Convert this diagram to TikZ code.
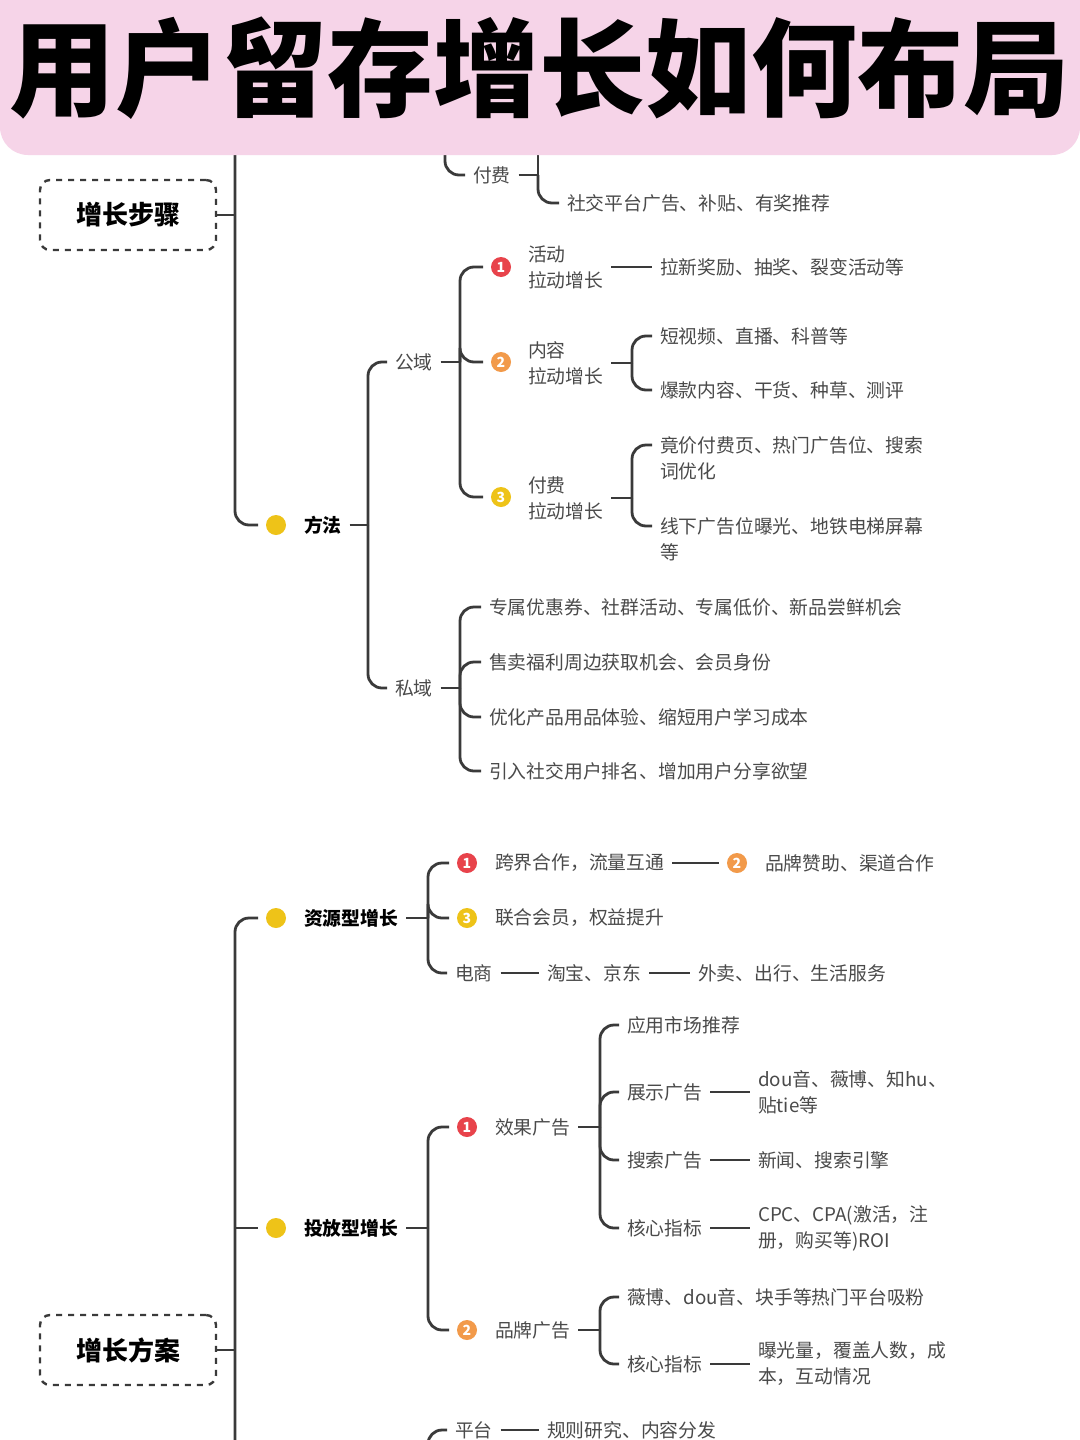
\documentclass[tikz,border=0pt]{standalone}
\usepackage{fontspec}
\setmainfont{Noto Sans CJK SC}
\usetikzlibrary{positioning,calc}
\definecolor{lncol}{HTML}{3A3A3A}
\definecolor{txcol}{HTML}{4A4A4A}
\definecolor{dotred}{HTML}{E8434B}
\definecolor{dotorg}{HTML}{F29A4A}
\definecolor{dotyel}{HTML}{EEC318}
\definecolor{bandpink}{HTML}{F6D4E8}
\newcommand{\txfont}{\fontsize{9.4}{13}\selectfont}
\tikzset{
    txsty/.style={anchor=west,inner sep=0pt,outer sep=4pt,xshift=-4pt,text=txcol,font=\txfont,align=left},
    hdsty/.style={txsty,text=black,font=\txfont\bfseries},
    dotsty/.style={circle,fill=#1,text=white,inner sep=0pt,minimum size=10pt,outer sep=4pt,
                   font=\fontsize{7}{7}\selectfont\bfseries},
    boxsty/.style={draw=lncol,dashed,line width=1.2pt,rounded corners=5pt,minimum width=88pt,
                   minimum height=35pt,font=\fontsize{13}{13}\selectfont\bfseries},
    lnsty/.style={draw=lncol,line width=1.4pt},
    brsty/.style={lnsty,rounded corners=7pt},
}
\newcommand{\brto}[2]{\draw[brsty] (#1) |- (#2.west);}
\begin{document}
\begin{tikzpicture}[x=0.5pt,y=-0.5pt]
  \useasboundingbox (0,0) rectangle (1080,1440);
  \fill[white] (0,0) rectangle (1080,1440);

  % upper part: steps
  \node[boxsty] (bxstep) at (128,215) {增长步骤};
  \coordinate (ttop) at (235,130);
  \coordinate (tjstep) at (235,215);
  \node[dotsty=dotyel] (dff) at (276,525) {};
  \node[hdsty] (fangfa) at (304,525) {方法};
  \brto{ttop}{dff}
  \draw[lnsty] (bxstep.east) -- (tjstep);

  \coordinate (jfftop) at (445,130);
  \node[txsty] (fufei) at (473,175) {付费};
  \brto{jfftop}{fufei}
  \coordinate (jff) at (538,175);
  \coordinate (jfft) at (538,130);
  \node[txsty] (ffb) at (567,203) {社交平台广告、补贴、有奖推荐};
  \draw[lnsty] (fufei.east) -- (jff) -- (jfft);
  \brto{jff}{ffb}

  \coordinate (jfa) at (368,525);
  \node[txsty] (gongyu) at (395,362) {公域};
  \node[txsty] (siyu) at (395,688) {私域};
  \draw[lnsty] (fangfa.east) -- (jfa);
  \brto{jfa}{gongyu}
  \brto{jfa}{siyu}

  \coordinate (jgy) at (460,362);
  \node[dotsty=dotred] (g1) at (501,267) {1};
  \node[dotsty=dotorg] (g2) at (501,362) {2};
  \node[dotsty=dotyel] (g3) at (501,497) {3};
  \draw[lnsty] (gongyu.east) -- (jgy);
  \foreach \n in {g1,g2,g3} {\brto{jgy}{\n}}

  \node[txsty] (g1t) at (528,267) {活动\\拉动增长};
  \node[txsty] (g1r) at (660,267) {拉新奖励、抽奖、裂变活动等};
  \draw[lnsty] (g1t.east) -- (g1r.west);

  \node[txsty] (g2t) at (528,363) {内容\\拉动增长};
  \node[txsty] (g2a) at (660,336) {短视频、直播、科普等};
  \node[txsty] (g2b) at (660,390) {爆款内容、干货、种草、测评};
  \coordinate (jg2) at (632,363);
  \draw[lnsty] (g2t.east) -- (jg2);
  \brto{jg2}{g2a}
  \brto{jg2}{g2b}

  \node[txsty] (g3t) at (528,498) {付费\\拉动增长};
  \node[txsty] (g3a) at (660,458) {竟价付费页、热门广告位、搜索\\词优化};
  \node[txsty] (g3b) at (660,539) {线下广告位曝光、地铁电梯屏幕\\等};
  \coordinate (jg3) at (632,498);
  \draw[lnsty] (g3t.east) -- (jg3);
  \draw[brsty] (jg3) |- ($(g3a.west)+(0,-13)$);
  \draw[brsty] (jg3) |- ($(g3b.west)+(0,-13)$);

  \coordinate (jsy) at (460,688);
  \draw[lnsty] (siyu.east) -- (jsy);
  \node[txsty] (s1) at (489,607) {专属优惠券、社群活动、专属低价、新品尝鲜机会};
  \node[txsty] (s2) at (489,662) {售卖福利周边获取机会、会员身份};
  \node[txsty] (s3) at (489,717) {优化产品用品体验、缩短用户学习成本};
  \node[txsty] (s4) at (489,771) {引入社交用户排名、增加用户分享欲望};
  \foreach \n in {s1,s2,s3,s4} {\brto{jsy}{\n}}

  % lower part: plans
  \node[boxsty] (bxplan) at (128,1350) {增长方案};
  \coordinate (tbot) at (235,1460);
  \coordinate (tjplan) at (235,1350);
  \coordinate (tjtf) at (235,1228);
  \node[dotsty=dotyel] (dzy) at (276,918) {};
  \node[hdsty] (zyt) at (304,918) {资源型增长};
  \node[dotsty=dotyel] (dtf) at (276,1228) {};
  \node[hdsty] (tft) at (304,1228) {投放型增长};
  \brto{tbot}{dzy}
  \draw[lnsty] (tjtf) -- (dtf.west);
  \draw[lnsty] (bxplan.east) -- (tjplan);

  \coordinate (jzy) at (428,918);
  \draw[lnsty] (zyt.east) -- (jzy);
  \node[dotsty=dotred] (z1) at (467,863) {1};
  \node[txsty] (z1t) at (495,863) {跨界合作，流量互通};
  \node[dotsty=dotorg] (z2) at (737,863) {2};
  \node[txsty] (z2t) at (765,863) {品牌赞助、渠道合作};
  \node[dotsty=dotyel] (z3) at (467,918) {3};
  \node[txsty] (z3t) at (495,918) {联合会员，权益提升};
  \node[txsty] (ds) at (455,973) {电商};
  \node[txsty] (ds1) at (547,973) {淘宝、京东};
  \node[txsty] (ds2) at (698,973) {外卖、出行、生活服务};
  \foreach \n in {z1,z3,ds} {\brto{jzy}{\n}}
  \draw[lnsty] (z1t.east) -- (z2.west);
  \draw[lnsty] (ds.east) -- (ds1.west);
  \draw[lnsty] (ds1.east) -- (ds2.west);

  \coordinate (jtf) at (428,1228);
  \draw[lnsty] (tft.east) -- (jtf);
  \node[dotsty=dotred] (x1) at (467,1127) {1};
  \node[txsty] (x1t) at (495,1127) {效果广告};
  \node[dotsty=dotorg] (x2) at (467,1330) {2};
  \node[txsty] (x2t) at (495,1330) {品牌广告};
  \brto{jtf}{x1}
  \brto{jtf}{x2}

  \coordinate (jx1) at (600,1127);
  \draw[lnsty] (x1t.east) -- (jx1);
  \node[txsty] (e1) at (627,1025) {应用市场推荐};
  \node[txsty] (e2) at (627,1092) {展示广告};
  \node[txsty] (e3) at (627,1160) {搜索广告};
  \node[txsty] (e4) at (627,1228) {核心指标};
  \foreach \n in {e1,e2,e3,e4} {\brto{jx1}{\n}}
  \node[txsty] (e2r) at (758,1092) {dou音、薇博、知hu、\\贴tie等};
  \node[txsty] (e3r) at (758,1160) {新闻、搜索引擎};
  \node[txsty] (e4r) at (758,1228) {CPC、CPA(激活，注\\册，购买等)ROI};
  \draw[lnsty] (e2.east) -- (e2r.west);
  \draw[lnsty] (e3.east) -- (e3r.west);
  \draw[lnsty] (e4.east) -- (e4r.west);

  \coordinate (jx2) at (600,1330);
  \draw[lnsty] (x2t.east) -- (jx2);
  \node[txsty] (b1) at (627,1297) {薇博、dou音、块手等热门平台吸粉};
  \node[txsty] (b2) at (627,1364) {核心指标};
  \node[txsty] (b2r) at (758,1364) {曝光量，覆盖人数，成\\本，互动情况};
  \brto{jx2}{b1}
  \brto{jx2}{b2}
  \draw[lnsty] (b2.east) -- (b2r.west);

  \coordinate (jpt) at (428,1470);
  \node[txsty] (pt) at (455,1430) {平台};
  \node[txsty] (pt1) at (547,1430) {规则研究、内容分发};
  \brto{jpt}{pt}
  \draw[lnsty] (pt.east) -- (pt1.west);

  % title band
  \fill[bandpink,rounded corners=14pt] (0,-30) rectangle (1080,155);
  \node[inner sep=0pt,font=\fontsize{53}{53}\selectfont\bfseries] (title) at (540,68) {用户留存增长如何布局};
\end{tikzpicture}
\end{document}
